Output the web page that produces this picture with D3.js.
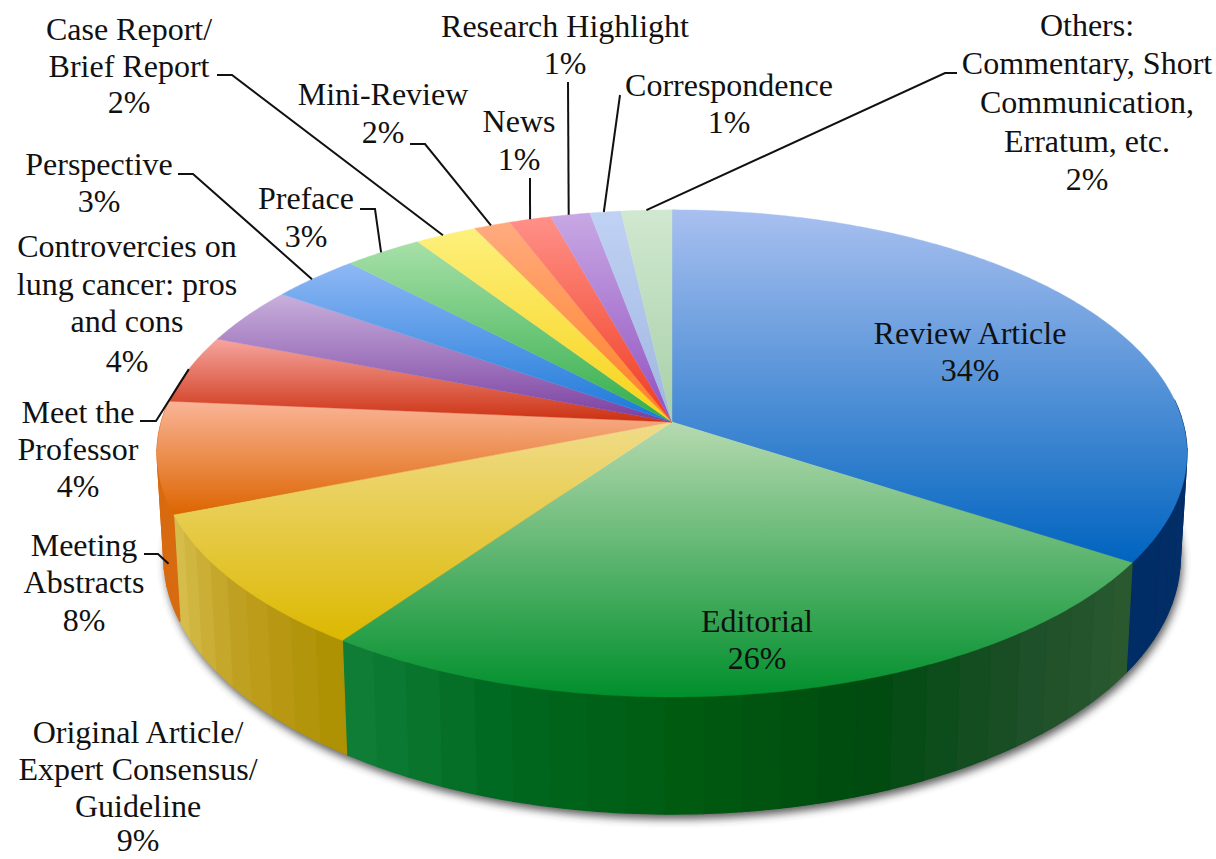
<!DOCTYPE html>
<html><head><meta charset="utf-8">
<script src="https://cdn.jsdelivr.net/npm/d3@7/dist/d3.min.js"></script>
<style>html,body{margin:0;padding:0;background:#fff;overflow:hidden}svg{display:block}text{font-family:"Liberation Serif",serif;font-size:32px;fill:#111;text-anchor:middle}</style>
</head><body><svg id="c" width="1216" height="859"></svg>
<script>
const categories = ["Review Article","Editorial","Original Article/ Expert Consensus/ Guideline","Meeting Abstracts","Meet the Professor","Controvercies on lung cancer: pros and cons","Perspective","Preface","Case Report/ Brief Report","Mini-Review","News","Research Highlight","Correspondence","Others: Commentary, Short Communication, Erratum, etc."];
const shares = [34.2,25.6,9.2,7.4,4.5,3.8,3.2,2.8,2.2,1.3,1.5,1.4,1.1,1.8];
const percentLabels = ["34%","26%","9%","8%","4%","4%","3%","3%","2%","2%","1%","1%","1%","2%"];
const labelLines = [["Review Article"],["Editorial"],["Original Article/","Expert Consensus/","Guideline"],["Meeting","Abstracts"],["Meet the","Professor"],["Controvercies on","lung cancer: pros","and cons"],["Perspective"],["Preface"],["Case Report/","Brief Report"],["Mini-Review"],["News"],["Research Highlight"],["Correspondence"],["Others:","Commentary, Short","Communication,","Erratum, etc."]];
const topColors = ["#a9c0f0","#b6dab0","#f0dc8a","#fab497","#f6a59f","#c8b0dc","#8fb8f5","#a8e0a8","#fdf07c","#ffab80","#ff9088","#c8a8e4","#c0d2f4","#d0e8d0"];
const baseColors = ["#0064bf","#008f2c","#dcb800","#dd6500","#cc3010","#7a3ea0","#1a78d8","#30ad4a","#f7d218","#ff8020","#ef3c20","#9050c0","#9eb6e0","#a8d0a8"];
const sideColors = [["#0a2a60","#0a3068","#002d66"],["#2c5a30","#1d4f28","#004a10","#005a10","#006820","#12803a"],["#ad8f00","#c0a020","#d8c050"],["#d86a10","#d86a10"]];
// label layout: centre x and the baseline of each text line
const labelX = [970,757,138,84,78,127,99,306,129,383,519,565,729,1087];
const labelY = [[344,381],[632,669],[743,780,817,851],[556,593,631],[423,460,497],[257,295,332,372],[175,212],[209,247],[40,77,113],[105,143],[132,170],[37,74],[96,133],[36,74,113,152,190]];
// leader layout: index, fraction along slice, fraction down the side, elbow points
const leaders = [
 {i:13,f:.5,d:0,pts:[[945,73],[957,73]]},
 {i:12,f:.45,d:0,pts:[[620,95]]},
 {i:11,f:.46,d:0,pts:[[568,82]]},
 {i:10,f:.5,d:0,pts:[[530,178]]},
 {i:9,f:.47,d:0,pts:[[425,144],[410,144]]},
 {i:8,f:.45,d:0,pts:[[232,75],[217,75]]},
 {i:7,f:.47,d:0,pts:[[375,209],[360,209]]},
 {i:6,f:.46,d:0,pts:[[193,174],[178,174]]},
 {i:4,f:.5,d:0,pts:[[156,421],[140,421]]},
 {i:3,f:.18,d:.66,pts:[[158,554],[144,554]]}
];
const svg = d3.select("#c"), cx = 672, cy = 422, B = 510.7, A = 239.5, k = 0.129, DEPTH = 102, INSET = 0.987;
function proj(a, lower=0){
  const u = Math.sin(a), v = -Math.cos(a), s = 1/(1-k*v);
  const x = B*u*s, y = A*v*s;
  const m = 1-(1-INSET)*lower;
  return [cx + x*m, cy + y + DEPTH*s*lower];
}
const pie = d3.pie().sort(null).value(d=>d);
const arcs = pie(shares);
const line = d3.line();
function samples(a0,a1,stepDeg=1){
  const n = Math.max(2,Math.ceil((a1-a0)/(stepDeg*Math.PI/180)));
  return d3.range(n+1).map(i=>a0+(a1-a0)*i/n);
}
const defs = svg.append("defs");
const blur = defs.append("filter").attr("id","sh").attr("x","-10%").attr("y","-20%").attr("width","120%").attr("height","140%");
blur.append("feGaussianBlur").attr("stdDeviation",4.5);
// shadow
svg.append("path").attr("filter","url(#sh)").attr("fill","#333").attr("opacity",.8)
  .attr("transform","translate(2,5)")
  .attr("d",line(samples(Math.PI*.45,Math.PI*1.55).map(a=>proj(a,1)))+"Z");
// side strips
const FRONT0 = Math.PI*.47, FRONT1 = Math.PI*1.53, STRIP = 4*Math.PI/180;
const strips = [];
arcs.forEach((d,i)=>{
  const a0 = Math.max(d.startAngle,FRONT0), a1 = Math.min(d.endAngle,FRONT1);
  if(a1<=a0||!sideColors[i]) return;
  const col = d3.scaleLinear().domain(sideColors[i].map((_,j)=>d.startAngle+(d.endAngle-d.startAngle)*j/(sideColors[i].length-1))).range(sideColors[i]);
  const n = Math.ceil((a1-a0)/STRIP);
  for(let j=0;j<n;j++){
    const s0=a0+(a1-a0)*j/n, s1=a0+(a1-a0)*(j+1)/n;
    strips.push({s0,s1,c:col((s0+s1)/2)});
  }
});
svg.append("g").selectAll("path").data(strips).join("path")
  .attr("fill",d=>d.c).attr("stroke",d=>d.c).attr("stroke-width",1.2)
  .attr("d",d=>{
    const as = samples(d.s0,d.s1,1);
    return line(as.map(a=>proj(a,0)).concat(as.slice().reverse().map(a=>proj(a,1))))+"Z";
  });
// top faces
arcs.forEach((d,i)=>{
  const pts = [[cx,cy]].concat(samples(d.startAngle,d.endAngle,.5).map(a=>proj(a,0)));
  const ys = pts.map(p=>p[1]);
  const g = defs.append("linearGradient").attr("id","t"+i).attr("gradientUnits","userSpaceOnUse")
    .attr("x1",0).attr("x2",0).attr("y1",d3.min(ys)).attr("y2",d3.max(ys));
  g.append("stop").attr("offset",0).attr("stop-color",topColors[i]);
  g.append("stop").attr("offset",1).attr("stop-color",baseColors[i]);
  svg.append("path").attr("d",line(pts)+"Z").attr("fill",`url(#t${i})`).attr("stroke",`url(#t${i})`).attr("stroke-width",.4);
});
// leaders
svg.append("g").selectAll("path").data(leaders).join("path")
  .attr("fill","none").attr("stroke","#111").attr("stroke-width",2)
  .attr("d",l=>{
    const d = arcs[l.i], p = proj(d.startAngle+(d.endAngle-d.startAngle)*l.f,l.d);
    return line([p].concat(l.pts));
  });
// labels
const tg = svg.append("g");
categories.forEach((c,i)=>{
  const lines = labelLines[i].concat([percentLabels[i]]);
  lines.forEach((t,j)=>tg.append("text").attr("x",labelX[i]).attr("y",labelY[i][j]).text(t));
});
</script></body></html>
